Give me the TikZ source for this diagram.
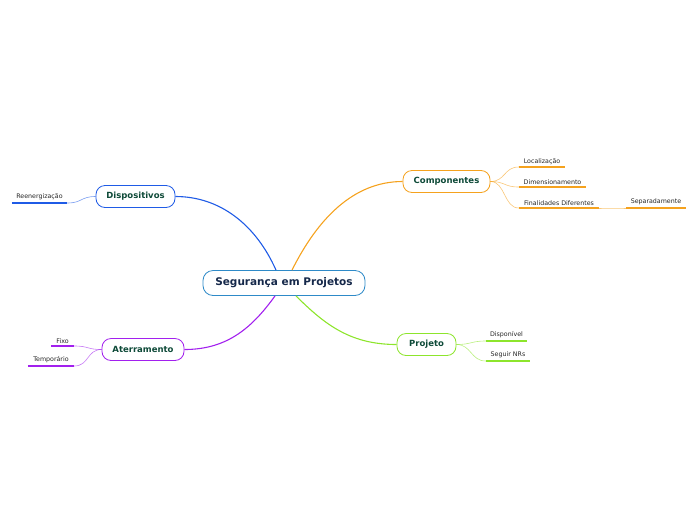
\documentclass[tikz,border=0pt]{standalone}
\usepackage{fontspec}
\setmainfont{DejaVu Sans}
\usepackage{tikz}
\usetikzlibrary{calc}

\definecolor{cblue}{HTML}{1F5BE6}
\definecolor{ccentral}{HTML}{2E8AC8}
\definecolor{corange}{HTML}{F5A21E}
\definecolor{cgreen}{HTML}{8DE52C}
\definecolor{cpurple}{HTML}{A220EE}
\definecolor{ctext}{HTML}{0E4A38}
\definecolor{cmain}{HTML}{15284A}

\tikzset{
  central/.style={draw=ccentral, line width=0.8pt, rounded corners=10pt, fill=white,
    minimum width=162pt, minimum height=25pt, inner sep=0pt,
    font=\fontsize{10.5}{12}\selectfont\bfseries, text=cmain},
  topic/.style={draw=#1, line width=0.8pt, rounded corners=9pt, fill=white,
    minimum height=22pt, inner sep=0pt,
    font=\fontsize{8.5}{10}\selectfont\bfseries, text=ctext},
  leaf/.style={inner xsep=0pt, inner ysep=2.5pt, anchor=south,
    font=\fontsize{6.3}{7}\selectfont, text=black!85},
  uline/.style={draw=#1, line width=1.6pt},
  main/.style={draw=#1, line width=1.1pt},
  twig/.style={draw=#1, line width=0.6pt, opacity=0.6},
}

\begin{document}
\begin{tikzpicture}[x=1pt,y=-1pt]
  \useasboundingbox (0,0) rectangle (696,520);
  % central topic
  \node[central] (root) at (284,283) {Segurança em Projetos};
  % main topics
  \node[topic=cblue, minimum width=79pt] (disp) at (135.5,196.5) {Dispositivos};
  \node[topic=corange, minimum width=87pt] (comp) at (446.5,181.5) {Componentes};
  \node[topic=cgreen, minimum width=59pt] (proj) at (426.5,344.5) {Projeto};
  \node[topic=cpurple, minimum width=82pt] (ater) at (143,349.5) {Aterramento};
  % leaves
  \node[leaf, minimum width=55pt] (reen) at (39.5,203) {Reenergização};
  \node[leaf, minimum width=46pt] (loc) at (542,167) {Localização};
  \node[leaf, minimum width=67pt] (dim) at (552.5,187) {Dimensionamento};
  \node[leaf, minimum width=80pt] (fin) at (559,208) {Finalidades Diferentes};
  \node[leaf, minimum width=60pt] (sep) at (656,208) {Separadamente};
  \node[leaf, minimum width=41pt] (dispn) at (506.5,341) {Disponível};
  \node[leaf, minimum width=44pt] (nrs) at (508,361) {Seguir NRs};
  \node[leaf, minimum width=23pt] (fixo) at (62.5,346) {Fixo};
  \node[leaf, minimum width=46pt] (temp) at (51,366) {Temporário};
  % underlines
  \draw[uline=cblue] (reen.south west) -- (reen.south east);
  \foreach \n in {loc,dim,fin,sep}
    \draw[uline=corange] (\n.south west) -- (\n.south east);
  \foreach \n in {dispn,nrs}
    \draw[uline=cgreen] (\n.south west) -- (\n.south east);
  \foreach \n in {fixo,temp}
    \draw[uline=cpurple] (\n.south west) -- (\n.south east);
  % main branches
  \draw[main=cblue] ($(root.north)+(-8,0)$) .. controls +(-20,-45) and +(45,0) .. (disp.east);
  \draw[main=corange] ($(root.north)+(8,0)$) .. controls +(25,-50) and +(-50,0) .. (comp.west);
  \draw[main=cgreen] ($(root.south)+(12,0)$) .. controls +(30,30) and +(-45,0) .. (proj.west);
  \draw[main=cpurple] ($(root.south)+(-9,0)$) .. controls +(-25,35) and +(40,0) .. (ater.east);
  % twigs
  \draw[twig=cblue] (disp.west) .. controls +(-15,0) and +(15,0) .. (reen.south east);
  \foreach \n in {loc,dim,fin}
    \draw[twig=corange] (comp.east) .. controls +(15,0) and +(-15,0) .. (\n.south west);
  \draw[twig=corange] (fin.south east) .. controls +(12,0) and +(-12,0) .. (sep.south west);
  \foreach \n in {dispn,nrs}
    \draw[twig=cgreen] (proj.east) .. controls +(15,0) and +(-15,0) .. (\n.south west);
  \foreach \n in {fixo,temp}
    \draw[twig=cpurple] (ater.west) .. controls +(-15,0) and +(15,0) .. (\n.south east);
\end{tikzpicture}
\end{document}
